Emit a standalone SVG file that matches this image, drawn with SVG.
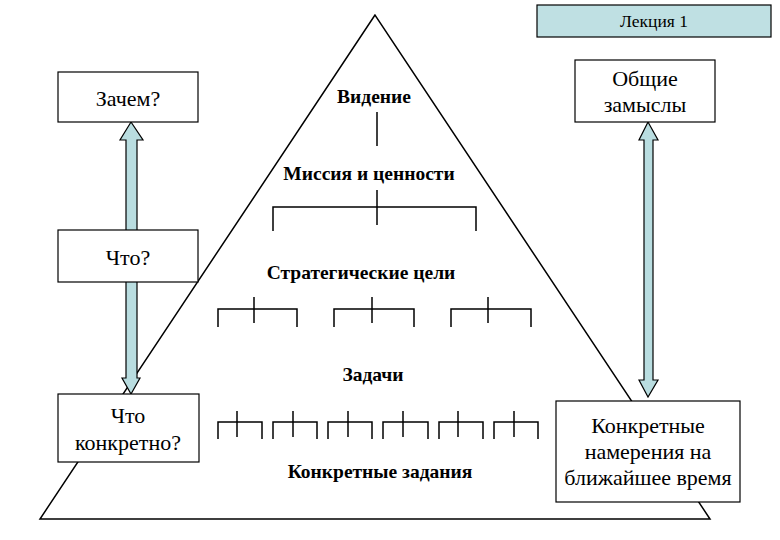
<svg xmlns="http://www.w3.org/2000/svg" width="780" height="540" viewBox="0 0 780 540">
<style>
.ln{stroke:#000;stroke-width:1.5;fill:none}
.box{fill:#fff;stroke:#000;stroke-width:1.2}
.arr{fill:#b9dde0;stroke:#000;stroke-width:1.2}
text{font-family:'Liberation Serif','DejaVu Serif',serif;fill:#000;text-anchor:middle}
.b{font-weight:bold;font-size:19.5px}
.n{font-size:22px}
</style>
<rect width="780" height="540" fill="#fff"/>
<g id="pyramid">
<polygon class="ln" points="375,15 40,519 710,519"/>
</g>
<g id="connectors">
<line class="ln" x1="377" y1="112" x2="377" y2="146"/>
<line class="ln" x1="377" y1="190" x2="377" y2="225"/>
<polyline class="ln" points="273,231 273,207 476,207 476,231"/>
<g id="strat-brackets">
<polyline class="ln" points="218,327 218,309 297,309 297,327"/><line class="ln" x1="254" y1="297" x2="254" y2="323"/>
<polyline class="ln" points="334,327 334,309 414,309 414,327"/><line class="ln" x1="372" y1="297" x2="372" y2="323"/>
<polyline class="ln" points="451,327 451,309 531,309 531,327"/><line class="ln" x1="488" y1="297" x2="488" y2="323"/>
</g>
<g id="task-brackets">
<polyline class="ln" points="218,439 218,422 262,422 262,439"/><line class="ln" x1="237" y1="411" x2="237" y2="437"/>
<polyline class="ln" points="273,439 273,422 317,422 317,439"/><line class="ln" x1="293" y1="411" x2="293" y2="437"/>
<polyline class="ln" points="328,439 328,422 372,422 372,439"/><line class="ln" x1="348" y1="411" x2="348" y2="437"/>
<polyline class="ln" points="383,439 383,422 428,422 428,439"/><line class="ln" x1="403" y1="411" x2="403" y2="437"/>
<polyline class="ln" points="439,439 439,422 483,422 483,439"/><line class="ln" x1="458" y1="411" x2="458" y2="437"/>
<polyline class="ln" points="494,439 494,422 538,422 538,439"/><line class="ln" x1="514" y1="411" x2="514" y2="437"/>
</g>
<polygon id="arrow-left" class="arr" points="131,122 143,140 137,140 137,378 140,378 131,394 122,378 126,378 126,140 120,140"/>
<polygon id="arrow-right" class="arr" points="648,122 658,140 653,140 653,380 658,380 648,397 639,380 644,380 644,140 639,140"/>
</g>
<g id="levels">
<text class="b" x="374" y="103">Видение</text>
<text class="b" x="369" y="180">Миссия и ценности</text>
<text class="b" x="361" y="279">Стратегические цели</text>
<text class="b" x="373" y="381">Задачи</text>
<text class="b" x="380" y="478">Конкретные задания</text>
</g>
<g id="lecture">
<rect x="537" y="5" width="234" height="32" fill="#bfe0e3" stroke="#000" stroke-width="1.2"/>
<text x="654" y="27" font-size="17.5">Лекция 1</text>
</g>
<g id="zachem">
<rect class="box" x="58" y="72" width="140" height="50"/>
<text class="n" x="128" y="106">Зачем?</text>
</g>
<g id="chto">
<rect class="box" x="58" y="230" width="140" height="52"/>
<text class="n" x="128" y="265">Что?</text>
</g>
<g id="chto-konkretno">
<rect class="box" x="58" y="394" width="141" height="68"/>
<text class="n" x="128" y="423">Что</text>
<text class="n" x="128" y="450">конкретно?</text>
</g>
<g id="obshchie">
<rect class="box" x="575" y="60" width="140" height="62"/>
<text class="n" x="645" y="86">Общие</text>
<text class="n" x="645" y="112">замыслы</text>
</g>
<g id="konkretnye">
<rect class="box" x="556" y="401" width="184" height="101"/>
<text class="n" x="648" y="433">Конкретные</text>
<text class="n" x="648" y="459">намерения на</text>
<text class="n" x="648" y="485">ближайшее время</text>
</g>
</svg>
